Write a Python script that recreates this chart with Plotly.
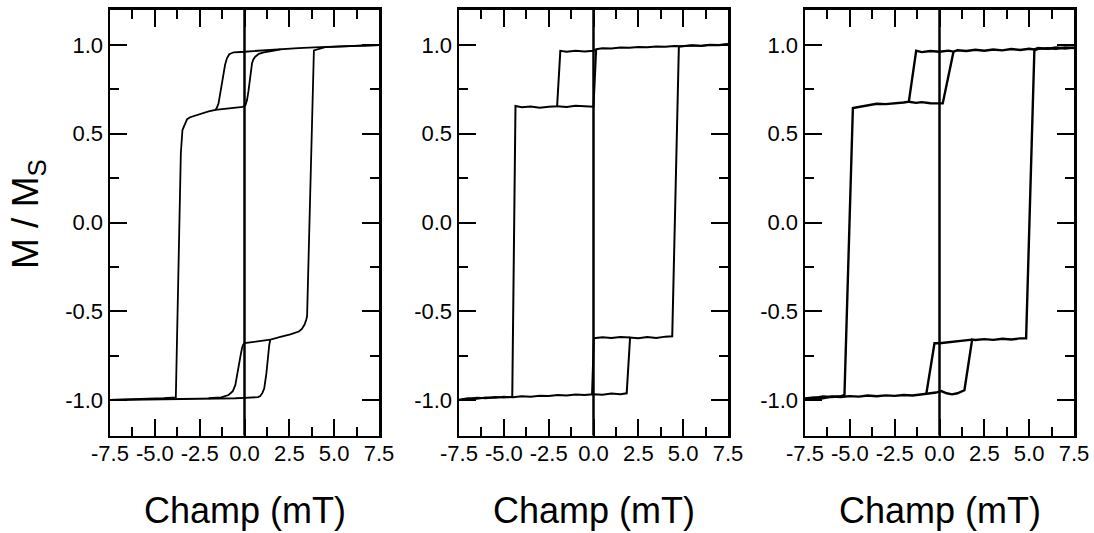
import plotly.graph_objects as go

# ---------------- data (field in mT, normalised magnetisation) ----------------
# Panel 1
p1_desc_H = [7.5, 6.5, 5.5, 4.5, 3.9, 3.0, 2.0, 1.2, 0.5, 0.0, -0.3, -0.6, -0.85, -0.98, -1.08, -1.13, -1.2, -1.26, -1.33, -1.45, -1.55, -1.63,
             -2.0, -2.47, -3.03, -3.2, -3.31, -3.4, -3.46, -3.55, -3.83, -4.5, -5.5, -6.5, -7.5]
p1_desc_M = [1.0, 0.997, 0.993, 0.99, 0.987, 0.982, 0.977, 0.972, 0.966, 0.962, 0.961, 0.959, 0.948, 0.925, 0.89, 0.859, 0.81, 0.765, 0.72, 0.67, 0.645, 0.634,
             0.626, 0.611, 0.593, 0.582, 0.559, 0.54, 0.521, 0.39, -0.985, -0.99, -0.993, -0.997, -1.0]
p1_upminor_H = [-1.63, -1.2, -0.8, -0.4, -0.1, 0.05, 0.14, 0.22, 0.29, 0.36, 0.42, 0.5, 0.6, 0.8, 1.07, 1.5, 2.0]
p1_upminor_M = [0.634, 0.638, 0.642, 0.647, 0.652, 0.66, 0.69, 0.74, 0.8, 0.85, 0.897, 0.92, 0.934, 0.95, 0.959, 0.966, 0.975]
p1_asc_H = [-7.5, -6.5, -5.5, -4.5, -3.83, -3.0, -2.0, -1.0, -0.5, 0.0, 0.5, 0.75, 0.88, 1.0, 1.1, 1.16, 1.22, 1.26, 1.32, 1.38, 1.44,
            1.7, 2.0, 2.56, 3.03, 3.2, 3.35, 3.45, 3.49, 3.87, 4.5, 5.5, 6.5, 7.5]
p1_asc_M = [-1.0, -0.999, -0.998, -0.997, -0.996, -0.995, -0.993, -0.991, -0.99, -0.988, -0.986, -0.984, -0.978, -0.96, -0.935, -0.9, -0.85, -0.81, -0.74, -0.69, -0.66,
            -0.652, -0.645, -0.63, -0.614, -0.6, -0.575, -0.545, -0.527, 0.97, 0.988, 0.992, 0.996, 1.0]
p1_lowminor_H = [1.44, 1.0, 0.5, 0.0, -0.08, -0.14, -0.22, -0.33, -0.42, -0.51, -0.65, -0.89, -1.3, -2.0]
p1_lowminor_M = [-0.66, -0.665, -0.672, -0.68, -0.69, -0.709, -0.75, -0.812, -0.87, -0.915, -0.95, -0.972, -0.985, -0.99]

# Panel 2
p2_desc_H = [7.5, 7.0, 6.5, 6.0, 5.5, 5.0, 4.5, 4.0, 3.5, 3.0, 2.5, 2.0, 1.5, 1.0, 0.5, 0.15, 0.0, -0.5, -1.0, -1.5, -1.85,
             -2.03, -2.5, -3.0, -3.5, -4.0, -4.35, -4.53, -5.0, -5.5, -6.0, -6.5, -7.0, -7.5]
p2_desc_M = [1.005, 1.0, 1.002, 0.996, 0.998, 0.993, 0.995, 0.99, 0.992, 0.987, 0.989, 0.984, 0.986, 0.98, 0.982, 0.976, 0.968, 0.964, 0.968, 0.962, 0.967,
             0.655, 0.652, 0.646, 0.653, 0.649, 0.656, -0.982, -0.986, -0.983, -0.99, -0.987, -0.995, -1.0]
p2_upminor_H = [-2.03, -1.5, -1.0, -0.5, 0.0, 0.15]
p2_upminor_M = [0.655, 0.651, 0.658, 0.654, 0.652, 0.976]
p2_asc_H = [-7.5, -7.0, -6.5, -6.0, -5.5, -5.0, -4.5, -4.0, -3.5, -3.0, -2.5, -2.0, -1.5, -1.0, -0.5, 0.0, 0.5, 1.0, 1.5, 1.85,
            2.04, 2.5, 3.0, 3.5, 4.0, 4.39, 4.76, 5.0, 5.5, 6.0, 6.5, 7.0, 7.5]
p2_asc_M = [-0.998, -0.99, -0.993, -0.986, -0.988, -0.982, -0.985, -0.979, -0.981, -0.976, -0.978, -0.972, -0.975, -0.969, -0.972, -0.967, -0.97, -0.964, -0.967, -0.962,
            -0.648, -0.652, -0.645, -0.65, -0.643, -0.641, 0.99, 0.994, 0.997, 0.995, 1.0, 0.998, 1.004]
p2_lowminor_H = [2.04, 1.5, 1.0, 0.5, 0.02, -0.08]
p2_lowminor_M = [-0.648, -0.645, -0.651, -0.647, -0.652, -0.968]

# Panel 3
p3_desc_H = [7.5, 7.0, 6.5, 6.0, 5.5, 5.29, 5.0, 4.5, 4.0, 3.5, 3.0, 2.5, 2.0, 1.5, 1.0, 0.78, 0.5, 0.0, -0.5, -1.0, -1.3,
             -1.71, -2.0, -2.5, -3.0, -3.5, -4.0, -4.5, -4.83, -5.3, -5.5, -6.0, -6.5, -7.0, -7.5]
p3_desc_M = [0.985, 0.98, 0.986, 0.978, 0.983, 0.975, 0.979, 0.972, 0.977, 0.97, 0.975, 0.968, 0.973, 0.966, 0.97, 0.963, 0.968, 0.962, 0.966, 0.96, 0.968,
             0.68, 0.676, 0.672, 0.667, 0.669, 0.66, 0.655, 0.645, -0.972, -0.978, -0.983, -0.98, -0.99, -0.995]
p3_upminor_H = [-1.71, -1.3, -1.0, -0.5, 0.0, 0.18, 0.78]
p3_upminor_M = [0.68, 0.674, 0.678, 0.672, 0.671, 0.671, 0.962]
p3_asc_H = [-7.5, -7.0, -6.5, -6.0, -5.5, -5.0, -4.5, -4.0, -3.5, -3.0, -2.5, -2.0, -1.5, -1.0, -0.74, -0.5, -0.2, 0.1, 0.4, 0.7, 1.0, 1.39,
            1.82, 2.0, 2.5, 3.0, 3.5, 4.0, 4.5, 4.83, 5.29, 5.5, 6.0, 6.5, 7.0, 7.5]
p3_asc_M = [-0.992, -0.985, -0.99, -0.98, -0.983, -0.978, -0.981, -0.975, -0.979, -0.974, -0.977, -0.972, -0.975, -0.97, -0.968, -0.962, -0.958, -0.95, -0.962, -0.968, -0.962, -0.945,
            -0.66, -0.662, -0.657, -0.661, -0.655, -0.659, -0.653, -0.652, 0.97, 0.978, 0.982, 0.979, 0.986, 0.983]
p3_lowminor_H = [1.82, 1.5, 1.0, 0.5, 0.0, -0.28, -0.74]
p3_lowminor_M = [-0.66, -0.664, -0.668, -0.673, -0.68, -0.68, -0.968]

# Axis ticks
x_tickvals = [-7.5, -5.0, -2.5, 0.0, 2.5, 5.0, 7.5]
x_ticktext = ["-7.5", "-5.0", "-2.5", "0.0", "2.5", "5.0", "7.5"]
y_tickvals = [-1.0, -0.5, 0.0, 0.5, 1.0]
y_ticktext = ["-1.0", "-0.5", "0.0", "0.5", "1.0"]
x_title = "Champ (mT)"
y_title = "M / M<sub>S</sub>"

panels = [
    [(p1_desc_H, p1_desc_M), (p1_upminor_H, p1_upminor_M), (p1_asc_H, p1_asc_M), (p1_lowminor_H, p1_lowminor_M)],
    [(p2_desc_H, p2_desc_M), (p2_upminor_H, p2_upminor_M), (p2_asc_H, p2_asc_M), (p2_lowminor_H, p2_lowminor_M)],
    [(p3_desc_H, p3_desc_M), (p3_upminor_H, p3_upminor_M), (p3_asc_H, p3_asc_M), (p3_lowminor_H, p3_lowminor_M)],
]
line_widths = [1.8, 2.0, 2.4]

W, H = 1094, 533
x_domains_px = [(110, 379), (459, 728), (805, 1074)]
y_domain_px = (9.5, 435.5)
ydom = [1 - y_domain_px[1] / H, 1 - y_domain_px[0] / H]

FONT = "Liberation Sans, Arial, sans-serif"

fig = go.Figure()
for i, branches in enumerate(panels):
    suffix = "" if i == 0 else str(i + 1)
    for hx, my in branches:
        fig.add_trace(go.Scatter(x=hx, y=my, mode="lines",
                                 line=dict(color="black", width=line_widths[i]),
                                 xaxis="x" + suffix, yaxis="y" + suffix,
                                 showlegend=False, hoverinfo="skip"))

common = dict(showline=True, linecolor="black", linewidth=2.5, mirror="ticks",
              ticks="inside", tickwidth=2, ticklen=17, tickcolor="black",
              showgrid=False, automargin=False,
              tickfont=dict(family=FONT, size=22, color="black"))

layout = dict(width=W, height=H, margin=dict(l=0, r=0, t=0, b=0),
              paper_bgcolor="white", plot_bgcolor="white", showlegend=False)

shapes = []
for i in range(3):
    suffix = "" if i == 0 else str(i + 1)
    x0, x1 = x_domains_px[i]
    layout["xaxis" + suffix] = dict(
        common, domain=[x0 / W, x1 / W], range=[-7.5, 7.5], anchor="y" + suffix,
        tickmode="array", tickvals=x_tickvals, ticktext=x_ticktext,
        zeroline=False, ticklabelstandoff=-3,
        minor=dict(ticks="inside", ticklen=9, tickwidth=2, tickcolor="black",
                   tick0=-7.5, dtick=1.25, showgrid=False))
    layout["yaxis" + suffix] = dict(
        common, domain=ydom, range=[-1.2, 1.2], anchor="x" + suffix,
        tickmode="array", tickvals=y_tickvals, ticktext=y_ticktext,
        zeroline=False, ticklabelstandoff=0,
        minor=dict(ticks="inside", ticklen=9, tickwidth=2, tickcolor="black",
                   tick0=0, dtick=0.25, showgrid=False))
    # zero-field reference line spanning the panel height
    shapes.append(dict(type="line", xref="x" + suffix, yref="y" + suffix + " domain",
                       x0=0, x1=0, y0=0, y1=1, line=dict(color="black", width=2.5)))

fig.update_layout(**layout)

annotations = []
for i in range(3):
    x0, x1 = x_domains_px[i]
    annotations.append(dict(text=x_title, xref="paper", yref="paper",
                            x=(x0 + x1) / 2 / W, y=1 - 511 / H, xanchor="center", yanchor="middle",
                            showarrow=False, font=dict(family=FONT, size=36, color="black")))
annotations.append(dict(text=y_title, xref="paper", yref="paper",
                        x=28 / W, y=1 - 214 / H, xanchor="center", yanchor="middle", textangle=-90,
                        showarrow=False, font=dict(family=FONT, size=37, color="black")))
fig.update_layout(annotations=annotations, shapes=shapes)

# remove the default page margin so the figure fills the window exactly; hide the mode bar
fig.write_html("out.html",
               config={"displayModeBar": False, "staticPlot": True},
               post_script="document.body.style.margin='0px';document.body.style.overflow='hidden';")
